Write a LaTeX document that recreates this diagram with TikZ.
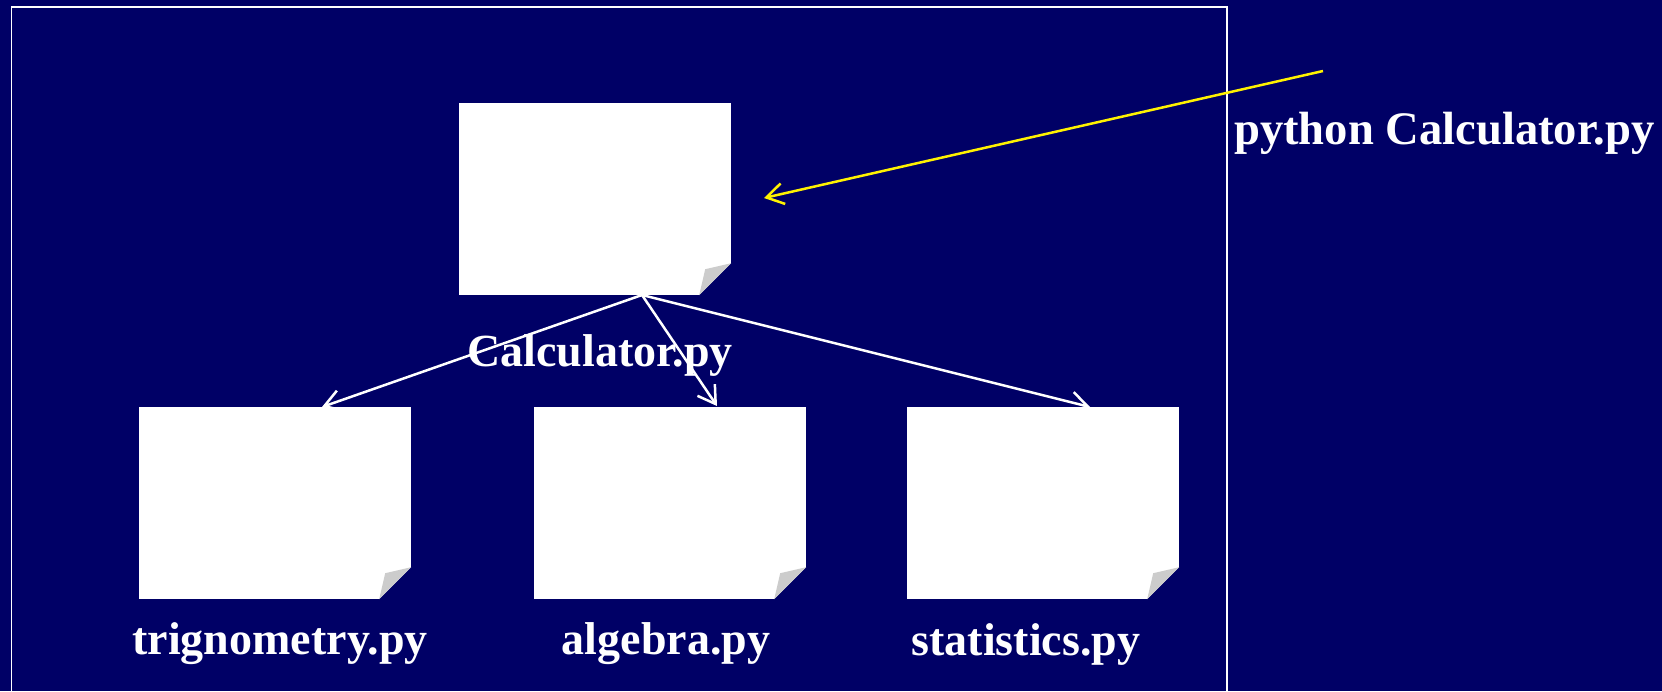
\documentclass[tikz,border=0pt]{standalone}
\usepackage{fontspec}
\setmainfont{Liberation Serif}
\usetikzlibrary{arrows.meta}
\definecolor{navy}{RGB}{0,0,102}
\definecolor{foldgray}{RGB}{204,204,204}
\tikzset{
  x=1pt,y=-1pt,
  page/.style={fill=white,draw=none,inner sep=0pt,minimum width=272pt,minimum height=192pt,rectangle},
  lbl/.style={text=white,inner sep=0pt,font=\fontsize{46}{54}\selectfont\bfseries},
  runlbl/.style={text=white,inner sep=0pt,font=\fontsize{46.6}{54}\selectfont\bfseries},
  conn/.style={white,line width=2.5pt,-{Straight Barb[length=17pt,width=21pt,line width=2.5pt]}},
  yconn/.style={yellow,line width=2.5pt,-{Straight Barb[length=17pt,width=21pt,line width=2.5pt]}},
  frame/.style={white,line width=1.8pt},
  fold/.style={fill=foldgray,draw=none},
  cut/.style={fill=navy,draw=none}
}
\begin{document}
\begin{tikzpicture}
\useasboundingbox (0,0) rectangle (1662,691);
\fill[navy] (0,0) rectangle (1662,691);
\draw[frame] (11.5,700) -- (11.5,7) -- (1227,7) -- (1227,700);
\foreach \n/\cx/\cy in {cal/595/199,trig/275/503,alg/670/503,stat/1043/503}{
  \node[page] (\n) at (\cx,\cy) {};
  \fill[cut] (\n.south east) ++(0,-32) -- (\n.south east) -- ++(-32,0) -- cycle;
  \fill[fold] (\n.south east) ++(0,-32) -- ++(-26,6) -- ++(-6,26) -- cycle;
}
\node[lbl] (calt) at (600,355) {Calculator.py};
\node[lbl] (trigt) at (280,644) {trignometry.py};
\node[lbl] (algt) at (666,644) {algebra.py};
\node[lbl] (statt) at (1026,644) {statistics.py};
\node[runlbl,anchor=west] (run) at (1234,133) {python Calculator.py};
\coordinate (src) at (642,295);
\coordinate (t1) at (322,407);
\coordinate (t2) at (717,406);
\coordinate (t3) at (1090,407);
\coordinate (ystart) at (1323,71);
\coordinate (yend) at (764,198);
\draw[conn] (src) -- (t1);
\draw[conn] (src) -- (t2);
\draw[conn] (src) -- (t3);
\draw[yconn] (ystart) -- (yend);
\end{tikzpicture}
\end{document}
